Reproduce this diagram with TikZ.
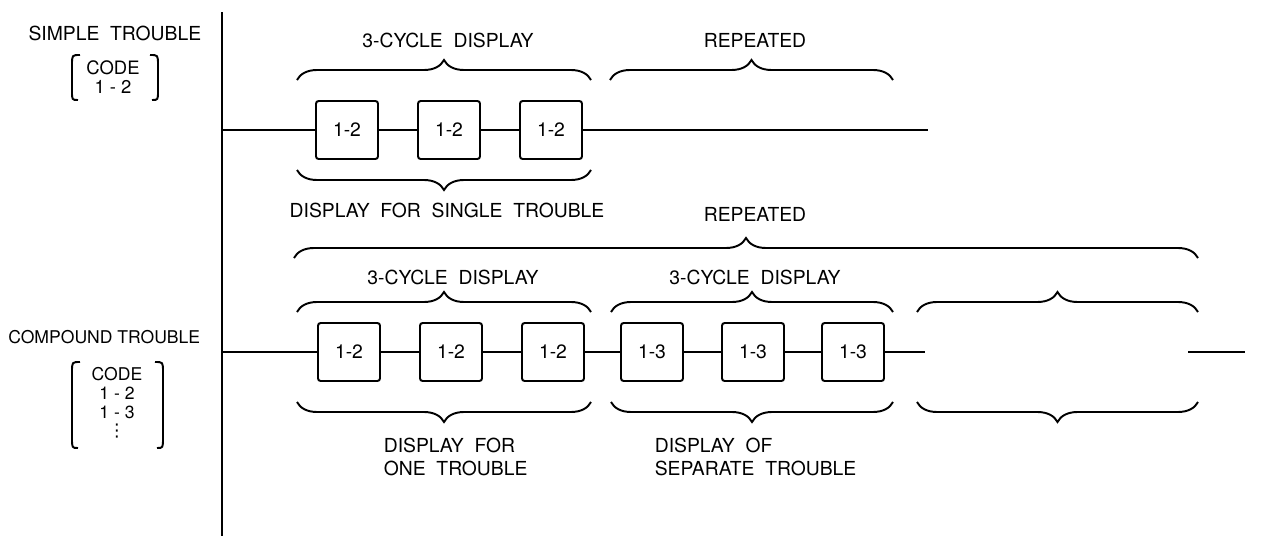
\documentclass[tikz,border=0pt]{standalone}
\usepackage{fontspec}
\setmainfont{TeX Gyre Heros}
\newfontfamily\dvsans{DejaVu Sans}
\usetikzlibrary{decorations.pathreplacing}

\tikzset{
    cyc/.style={draw, rounded corners=1.5pt, minimum width=12.4mm, minimum height=11.6mm, inner sep=0pt, font=\fontsize{11}{13}\selectfont},
    brc/.style={decorate, decoration={brace, amplitude=4mm}},
    lbl/.style={font=\fontsize{11}{13}\selectfont},
}

\begin{document}
\begin{tikzpicture}[x=0.2mm, y=-0.2mm, line width=1.1pt]
        \useasboundingbox (0, 0) rectangle (1264, 536);
        \draw (222, 12) -- (222, 536);

        % simple trouble
        \node[lbl, anchor=east] (simple) at (208, 33) {SIMPLE\ \ TROUBLE};
        \node[lbl, align=center, font=\fontsize{10.5}{11}\selectfont] (code1) at (113, 77) {CODE\\1 - 2};
        \draw (80, 55) .. controls (72, 55) .. (72, 65) -- (72, 91) .. controls (72, 100) .. (78, 100);
        \draw (150, 55) .. controls (158, 55) .. (158, 65) -- (158, 91) .. controls (158, 100) .. (152, 100);

        \node[cyc] (a1) at (347, 130) {1-2};
        \node[cyc] (a2) at (449, 130) {1-2};
        \node[cyc] (a3) at (551, 130) {1-2};
        \coordinate (s1) at (222, 130);
        \coordinate (e1) at (928, 130);
        \draw (s1) -- (a1) -- (a2) -- (a3) -- (e1);

        \draw[brc] (297, 80) -- (591, 80);
        \draw[brc] (610, 80) -- (893, 80);
        \node[lbl] (cyc1) at (448, 40) {3-CYCLE\ \ DISPLAY};
        \node[lbl] (rep1) at (755, 40) {REPEATED};
        \draw[brc] (591, 170) -- (297, 170);
        \node[lbl] (single) at (447, 210) {DISPLAY\ \ FOR\ \ SINGLE\ \ TROUBLE};

        % compound trouble
        \node[lbl, anchor=east, font=\fontsize{10}{12}\selectfont] (compound) at (207, 337) {COMPOUND TROUBLE};
        \node[lbl, align=center, font=\fontsize{10}{10.6}\selectfont] (code2) at (117, 403) {CODE\\1 - 2\\1 - 3\\{\dvsans ⋮}};
        \draw (80, 362) .. controls (72, 362) .. (72, 372) -- (72, 438) .. controls (72, 448) .. (78, 448);
        \draw (155, 362) .. controls (163, 362) .. (163, 372) -- (163, 438) .. controls (163, 448) .. (157, 448);

        \node[cyc] (b1) at (349, 352) {1-2};
        \node[cyc] (b2) at (451, 352) {1-2};
        \node[cyc] (b3) at (553, 352) {1-2};
        \node[cyc] (c1) at (652, 352) {1-3};
        \node[cyc] (c2) at (753, 352) {1-3};
        \node[cyc] (c3) at (853, 352) {1-3};
        \coordinate (s2) at (222, 352);
        \coordinate (e2) at (925, 352);
        \coordinate (r1) at (1188, 352);
        \coordinate (r2) at (1245, 352);
        \draw (s2) -- (b1) -- (b2) -- (b3) -- (c1) -- (c2) -- (c3) -- (e2);
        \draw (r1) -- (r2);

        \draw[brc] (294, 258) -- (1198, 258);
        \node[lbl] (rep2) at (755, 214) {REPEATED};
        \draw[brc] (297, 312) -- (591, 312);
        \draw[brc] (611, 312) -- (893, 312);
        \draw[brc] (917, 312) -- (1198, 312);
        \node[lbl] (cyc2) at (453, 277) {3-CYCLE\ \ DISPLAY};
        \node[lbl] (cyc3) at (755, 277) {3-CYCLE\ \ DISPLAY};
        \draw[brc] (591, 402) -- (297, 402);
        \draw[brc] (893, 402) -- (611, 402);
        \draw[brc] (1198, 402) -- (917, 402);
        \node[lbl, align=left, anchor=north west] (one) at (377, 431) {DISPLAY\ \ FOR\\ONE\ \ TROUBLE};
        \node[lbl, align=left, anchor=north west] (separate) at (648, 431) {DISPLAY\ \ OF\\SEPARATE\ \ TROUBLE};
    \end{tikzpicture}
\end{document}
